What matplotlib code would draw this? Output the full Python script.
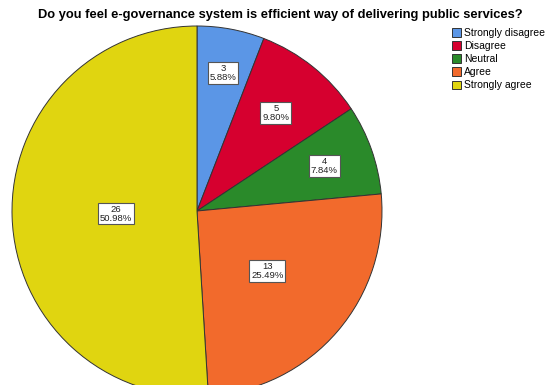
import numpy as np
import matplotlib.pyplot as plt

# data
categories = ['Strongly disagree', 'Disagree', 'Neutral', 'Agree', 'Strongly agree']
counts = [3, 5, 4, 13, 26]
colors = ['#5B96E6', '#D6002F', '#2A8A2A', '#F26A2C', '#E0D510']
label_dist = [0.76, 0.68, 0.73, 0.50, 0.44]   # label position as fraction of radius

W, H = 547, 385
plt.rcParams['font.family'] = ['Liberation Sans', 'DejaVu Sans']
fig = plt.figure(figsize=(W / 100, H / 100), dpi=100)
ax = fig.add_axes([0, 0, 1, 1])

cx, cy, R = 197, H - 211, 185
wedges, _ = ax.pie(counts, colors=colors, startangle=90, counterclock=False,
                   center=(cx, cy), radius=R, frame=True,
                   wedgeprops=dict(edgecolor='#333333', linewidth=0.7))

# count / percent labels in boxes
total = sum(counts)
pct = [c / total * 100 for c in counts]
start = 90.0
for c, p, d in zip(counts, pct, label_dist):
    sweep = c / total * 360
    mid = np.deg2rad(start - sweep / 2)
    start -= sweep
    x = cx + d * R * np.cos(mid)
    y = cy + d * R * np.sin(mid)
    ax.text(x, y, f'{c}\n{p:.2f}%', ha='center', va='center', fontsize=6.8,
            linespacing=1.0, color='#222222',
            bbox=dict(boxstyle='square,pad=0.2', fc='white', ec='#555555', lw=0.8))

ax.set_xlim(0, W)
ax.set_ylim(0, H)
ax.axis('off')

fig.text(280 / W, 1 - 15 / H,
         'Do you feel e-governance system is efficient way of delivering public services?',
         ha='center', va='center', fontsize=9.3, fontweight='bold')

ax.legend(wedges, categories, loc='upper left', bbox_to_anchor=(452 / W, 1 - 28 / H),
          frameon=False, fontsize=7.5, handlelength=0.9, handleheight=0.9,
          handletextpad=0.25, labelspacing=0.3, borderpad=0, borderaxespad=0)

fig.savefig('out.png', dpi=100)
